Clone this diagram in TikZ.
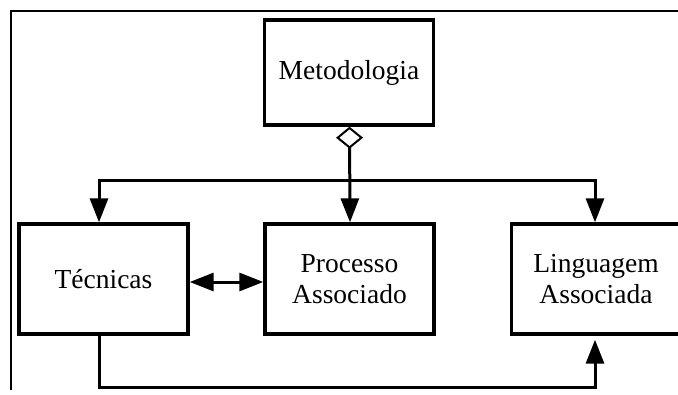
\documentclass[tikz,border=0pt]{standalone}
\usepackage{fontspec}
\setmainfont{Liberation Serif}
\usetikzlibrary{arrows.meta}
\tikzset{
  block/.style={draw, line width=3.4pt, minimum width=169pt, minimum height=110pt,
    align=center, inner sep=0pt, font=\fontsize{27.5}{31}\selectfont},
  link/.style={line width=3pt},
  tip/.style={-{Triangle[length=24pt,width=18pt]}},
  frameline/.style={line width=1.4pt}
}
\begin{document}
\begin{tikzpicture}[x=1pt, y=-1pt]
  \useasboundingbox (0,0) rectangle (678,394);
  % outer frame (top and left edges)
  \draw[frameline] (678,11) -- (11,11) -- (11,390);

  % blocks
  \node[block, minimum height=105pt] (met) at (349,72.5) {Metodologia};
  \node[block] (tec) at (103.5,279) {Técnicas};
  \node[block] (proc) at (349.5,279) {Processo\\Associado};
  \node[block] (ling) at (596,279) {Linguagem\\Associada};

  % aggregation from Metodologia
  \coordinate (split) at (350,180);
  \draw[link, {Diamond[open,length=22pt,width=27pt,line width=2pt]}-{Triangle[length=24pt,width=18pt]}]
    ([xshift=0.5pt]met.south) -- ([xshift=0.5pt]proc.north);
  \draw[link, tip] (split) -| ([xshift=-4.5pt]tec.north);
  \draw[link, tip] (split) -| ([xshift=-1pt]ling.north);

  % link between Técnicas and Processo Associado
  \draw[link, {Triangle[length=24pt,width=18pt]}-{Triangle[length=24pt,width=18pt]}]
    ([yshift=-3pt]tec.east) -- ([yshift=-3pt]proc.west);

  % Técnicas to Linguagem Associada along the bottom
  \coordinate (low) at (99,387);
  \draw[link, tip, shorten >=4pt] ([xshift=-4.5pt]tec.south) -- (low) -| ([xshift=-1pt]ling.south);
\end{tikzpicture}
\end{document}
